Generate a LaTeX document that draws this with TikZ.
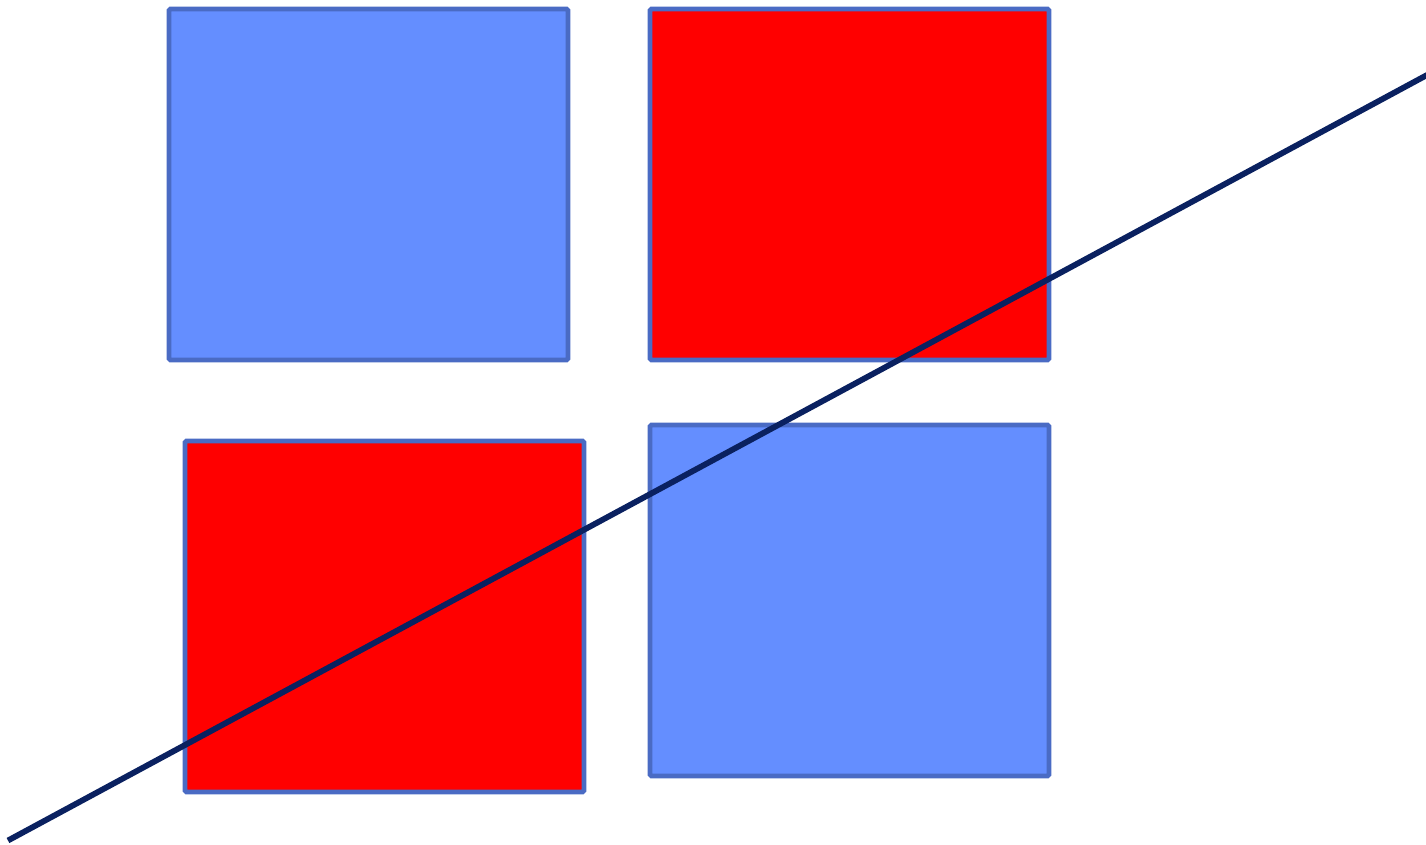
\documentclass[tikz,border=0pt]{standalone}
\definecolor{boxblue}{RGB}{100,142,255}
\definecolor{boxred}{RGB}{255,0,0}
\definecolor{edgeblue}{RGB}{74,107,196}
\definecolor{navyline}{RGB}{10,33,96}
\begin{document}
\begin{tikzpicture}[x=1pt,y=-1pt,
  panel/.style={draw=edgeblue,line width=4.8pt,rounded corners=1.5pt,inner sep=0pt,outer sep=0pt,anchor=north west,minimum width=399pt,minimum height=351pt},
  diag/.style={draw=navyline,line width=5.8pt}]
\useasboundingbox (0,0) rectangle (1426,845);
\clip (0,0) rectangle (1426,845);
\node[panel,fill=boxblue] (tl) at (169,9) {};
\node[panel,fill=boxred] (tr) at (650,9) {};
\node[panel,fill=boxred] (bl) at (185,441) {};
\node[panel,fill=boxblue] (br) at (650,425) {};
\coordinate (ls) at (8,840.5);
\coordinate (le) at (1440,68);
\draw[diag] (ls) -- (le);
\end{tikzpicture}
\end{document}
